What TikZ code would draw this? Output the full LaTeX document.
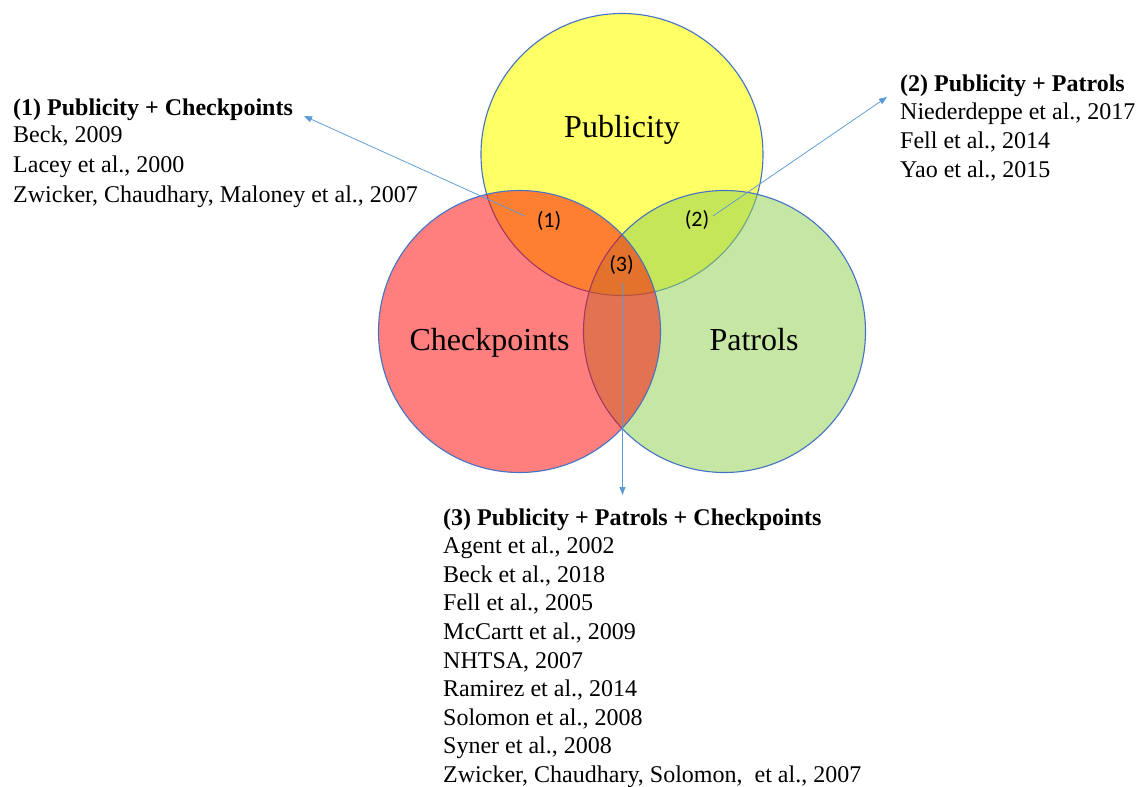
\documentclass[tikz,border=0pt]{standalone}
\usepackage{fontspec}
\setmainfont{Liberation Serif}
\newfontfamily\numfont{Carlito}
\usetikzlibrary{arrows.meta}
\definecolor{ringblue}{RGB}{68,114,196}
\definecolor{arrowblue}{RGB}{91,155,213}
\definecolor{pubfill}{RGB}{255,255,0}
\definecolor{chkfill}{RGB}{255,0,0}
\definecolor{patfill}{RGB}{146,208,80}
\begin{document}
\begin{tikzpicture}[x=1pt,y=-1pt,
  venn/.style={draw=ringblue, line width=1.1pt},
  biglabel/.style={font=\fontsize{32}{38}\selectfont, inner sep=0pt, anchor=base},
  numlabel/.style={font=\numfont\fontsize{22}{26}\selectfont, inner sep=0pt},
  refline/.style={font=\fontsize{24}{28}\selectfont, inner sep=0pt, anchor=base west},
  headline/.style={refline, font=\fontsize{24}{28}\selectfont\bfseries},
  pointer/.style={draw=arrowblue, line width=0.75pt, -{Triangle[length=8pt,width=6pt]}}
]
\useasboundingbox (0,0) rectangle (1138,787);
\fill[white] (0,0) rectangle (1138,787);

% circles
\path[venn, fill=pubfill, fill opacity=0.6] (622,154.5) circle[radius=141pt];
\path[venn, fill=patfill, fill opacity=0.52] (724.5,331.5) circle[radius=141pt];
\path[venn, fill=chkfill, fill opacity=0.5] (519.5,331.5) circle[radius=141pt];

% circle labels
\node[biglabel] (pub) at (622,137) {Publicity};
\node[biglabel] (chk) at (489.5,350) {Checkpoints};
\node[biglabel] (pat) at (754,350) {Patrols};

\node[numlabel] (n1) at (549,221) {(1)};
\node[numlabel] (n2) at (697,220) {(2)};
\node[numlabel] (n3) at (621.5,265) {(3)};

% block 1
\node[headline] (b1h) at (13,115) {(1) Publicity + Checkpoints};
\node[refline] (b1a) at (13,142) {Beck, 2009};
\node[refline] (b1b) at (13,172) {Lacey et al., 2000};
\node[refline] (b1c) at (13,202) {Zwicker, Chaudhary, Maloney et al., 2007};

% block 2
\node[headline] (b2h) at (900,91) {(2) Publicity + Patrols};
\node[refline] (b2a) at (900,119.5) {Niederdeppe et al., 2017};
\node[refline] (b2b) at (900,148.5) {Fell et al., 2014};
\node[refline] (b2c) at (900,177.5) {Yao et al., 2015};

% block 3
\node[headline] (b3h) at (443,525) {(3) Publicity + Patrols + Checkpoints};
\node[refline] (b3a) at (443,553.6) {Agent et al., 2002};
\node[refline] (b3b) at (443,582.2) {Beck et al., 2018};
\node[refline] (b3c) at (443,610.8) {Fell et al., 2005};
\node[refline] (b3d) at (443,639.4) {McCartt et al., 2009};
\node[refline] (b3e) at (443,668) {NHTSA, 2007};
\node[refline] (b3f) at (443,696.6) {Ramirez et al., 2014};
\node[refline] (b3g) at (443,725.2) {Solomon et al., 2008};
\node[refline] (b3h2) at (443,753.8) {Syner et al., 2008};
\node[refline] (b3i) at (443,782.4) {Zwicker, Chaudhary, Solomon,\ \ et al., 2007};

% pointers
\coordinate (s1) at (525,216);
\coordinate (e1) at (304,116);
\coordinate (s2) at (713,216);
\coordinate (e2) at (887,97);
\coordinate (s3) at (622.5,283);
\coordinate (e3) at (622.5,495);
\draw[pointer] (s1) -- (e1);
\draw[pointer] (s2) -- (e2);
\draw[pointer] (s3) -- (e3);
\end{tikzpicture}
\end{document}
